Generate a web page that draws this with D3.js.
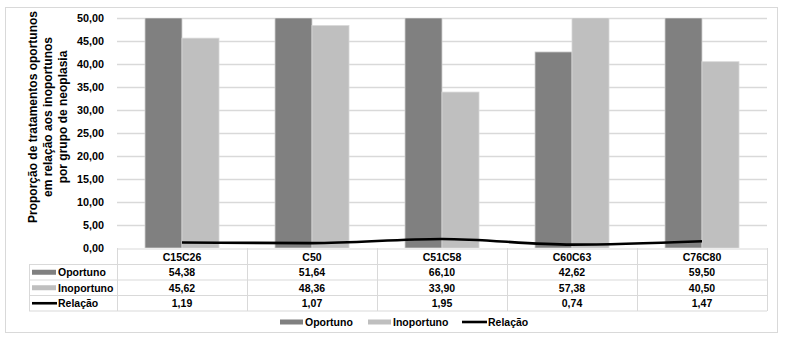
<!DOCTYPE html>
<html><head><meta charset="utf-8">
<script src="https://cdn.jsdelivr.net/npm/d3@7"></script>
<style>body{margin:0;background:#fff}svg text{font-family:"Liberation Sans",Arial,sans-serif;font-weight:bold;fill:#000}</style>
</head><body><svg id="c" width="785" height="339"></svg>
<script>
const categories=["C15C26","C50","C51C58","C60C63","C76C80"];
const oportuno=[54.38,51.64,66.10,42.62,59.50];
const inoportuno=[45.62,48.36,33.90,57.38,40.50];
const relacao=[1.19,1.07,1.95,0.74,1.47];
const yTicks=[0,5,10,15,20,25,30,35,40,45,50];
const seriesNames=["Oportuno","Inoportuno","Relação"];
const yTitle=["Proporção de tratamentos oportunos","em relação aos inoportunos","por grupo de neoplasia"];

const svg=d3.select("#c");
const fmt=v=>d3.format(".2f")(v).replace(".",",");
const L=117,R=767,T=18,B=248;
const FS=10.5;
const x=d3.scaleBand().domain(categories).range([L,R]);
const y=d3.scaleLinear().domain([0,50]).range([B,T]);
const grid="#d9d9d9";
const cOp="#808080",cIn="#bfbfbf";

svg.append("rect").attr("x",5.5).attr("y",7.5).attr("width",772).attr("height",325).attr("fill","#fff").attr("stroke",grid);

// gridlines
svg.append("g").selectAll("line").data(yTicks.filter(d=>d>0)).join("line")
 .attr("x1",L).attr("x2",R).attr("y1",d=>Math.round(y(d))+0.5).attr("y2",d=>Math.round(y(d))+0.5)
 .attr("stroke",grid).attr("stroke-width",1.5);

// y tick labels
svg.append("g").selectAll("text").data(yTicks).join("text")
 .attr("x",104).attr("y",d=>y(d)+4).attr("text-anchor","end").attr("font-size",FS+0.3).text(fmt);

// bars
const bw=37;
svg.append("defs").append("clipPath").attr("id","pc").append("rect").attr("x",L).attr("y",T).attr("width",R-L).attr("height",B-T);
const bars=svg.append("g").attr("clip-path","url(#pc)");
const cx=c=>x(c)+x.bandwidth()/2;
bars.selectAll(".op").data(categories).join("rect")
 .attr("x",(c)=>cx(c)-bw).attr("width",bw)
 .attr("y",(c,i)=>y(Math.min(oportuno[i],50))).attr("height",(c,i)=>B-y(Math.min(oportuno[i],50)))
 .attr("fill",cOp).attr("stroke","#d0d0d0").attr("stroke-width",0.8);
bars.selectAll(".in").data(categories).join("rect")
 .attr("x",(c)=>cx(c)).attr("width",bw)
 .attr("y",(c,i)=>y(Math.min(inoportuno[i],50))).attr("height",(c,i)=>B-y(Math.min(inoportuno[i],50)))
 .attr("fill",cIn).attr("stroke","#d8d8d8").attr("stroke-width",0.8);

// line
const line=d3.line().x((d,i)=>cx(categories[i])).y(d=>y(d)).curve(d3.curveMonotoneX);
svg.append("path").attr("d",line(relacao)).attr("fill","none").attr("stroke","#000").attr("stroke-width",2.6);

// data table
const rows=[249,264.5,280,295.5,311];
const tg=svg.append("g").attr("stroke","#d9d9d9").attr("stroke-width",1);
tg.append("line").attr("x1",L).attr("x2",R).attr("y1",rows[0]).attr("y2",rows[0]);
for(let k=1;k<rows.length;k++) tg.append("line").attr("x1",29).attr("x2",R).attr("y1",rows[k]).attr("y2",rows[k]);
tg.append("line").attr("x1",29.5).attr("x2",29.5).attr("y1",rows[1]).attr("y2",rows[4]);
const vx=[L,...categories.map(c=>x(c)+x.bandwidth())];
vx.forEach(v=>tg.append("line").attr("x1",v+0.5).attr("x2",v+0.5).attr("y1",B).attr("y2",rows[4]));

svg.append("g").selectAll("text").data(categories).join("text")
 .attr("x",cx).attr("y",rows[0]+11.5).attr("text-anchor","middle").attr("font-size",FS).text(d=>d);
const series=[oportuno,inoportuno,relacao];
series.forEach((s,r)=>{
  svg.append("g").selectAll("text").data(s).join("text")
   .attr("x",(d,i)=>cx(categories[i])).attr("y",rows[r+1]+11.5).attr("text-anchor","middle").attr("font-size",FS).text(fmt);
  const ry=rows[r+1]+7.75;
  if(r<2) svg.append("rect").attr("x",32).attr("y",ry-2.5).attr("width",24).attr("height",5).attr("fill",r==0?cOp:cIn);
  else svg.append("line").attr("x1",32).attr("x2",57).attr("y1",ry).attr("y2",ry).attr("stroke","#000").attr("stroke-width",2.6);
  svg.append("text").attr("x",58).attr("y",rows[r+1]+11.5).attr("font-size",FS).text(seriesNames[r]);
});

// legend
const lg=svg.append("g");
const ly=322;
const lx=[280,368,462];
seriesNames.forEach((n,i)=>{
  if(i<2) lg.append("rect").attr("x",lx[i]).attr("y",ly-2.5).attr("width",23).attr("height",5).attr("fill",i==0?cOp:cIn);
  else lg.append("line").attr("x1",lx[i]).attr("x2",lx[i]+25).attr("y1",ly).attr("y2",ly).attr("stroke","#000").attr("stroke-width",2.6);
  lg.append("text").attr("x",lx[i]+(i<2?25:26)).attr("y",ly+4).attr("font-size",FS).text(n);
});

// y title
const yt=svg.append("text").attr("transform","translate(52,117) rotate(-90)").attr("text-anchor","middle").attr("font-size",12);
yTitle.forEach((t,i)=>yt.append("tspan").attr("x",0).attr("dy",i==0?-15:15).text(t));
</script></body></html>
